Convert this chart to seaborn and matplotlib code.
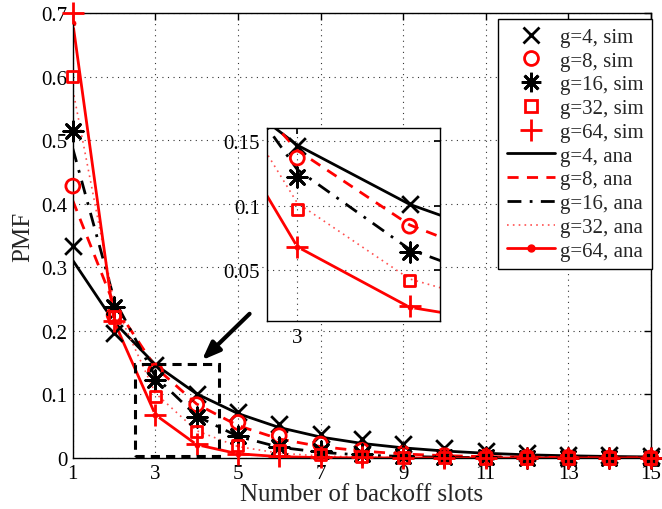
import numpy as np
import pandas as pd
import matplotlib
matplotlib.use("Agg")
import matplotlib.pyplot as plt
import seaborn as sns
from matplotlib.lines import Line2D
from matplotlib.patches import Rectangle

# ---------------- data ----------------
slots = [1, 2, 3, 4, 5, 6, 7, 8, 9, 10, 11, 12, 13, 14, 15]

g4_sim = [0.333, 0.197, 0.146, 0.101, 0.072, 0.054, 0.038, 0.030, 0.022, 0.016, 0.011, 0.008, 0.005, 0.004, 0.003]
g8_sim = [0.428, 0.225, 0.137, 0.084, 0.056, 0.035, 0.022, 0.012, 0.007, 0.004, 0.002, 0.001, 0.001, 0.0, 0.0]
g16_sim = [0.514, 0.238, 0.122, 0.064, 0.035, 0.018, 0.011, 0.006, 0.003, 0.002, 0.001, 0.0, 0.0, 0.0, 0.0]
g32_sim = [0.600, 0.222, 0.097, 0.042, 0.020, 0.0115, 0.006, 0.003, 0.001, 0.0005, 0.0, 0.0, 0.0, 0.0, 0.0]
g64_sim = [0.700, 0.215, 0.068, 0.022, 0.006, 0.003, 0.0015, 0.001, 0.0, 0.0, 0.0, 0.0, 0.0, 0.0, 0.0]

g4_ana = [0.311, 0.214, 0.147, 0.101, 0.070, 0.048, 0.033, 0.023, 0.016, 0.011, 0.0075, 0.005, 0.0035, 0.0024, 0.0017]
g8_ana = [0.405, 0.241, 0.143, 0.085, 0.051, 0.030, 0.018, 0.011, 0.0063, 0.0037, 0.0022, 0.0013, 0.0008, 0.0005, 0.0003]
g16_ana = [0.487, 0.250, 0.128, 0.066, 0.034, 0.017, 0.009, 0.0046, 0.0024, 0.0012, 0.0006, 0.0003, 0.0002, 0.0001, 0.0]
g32_ana = [0.580, 0.244, 0.102, 0.043, 0.018, 0.0076, 0.0032, 0.0013, 0.0006, 0.0002, 0.0001, 0.0, 0.0, 0.0, 0.0]
g64_ana = [0.685, 0.215, 0.068, 0.021, 0.0067, 0.0021, 0.0007, 0.0002, 0.0001, 0.0, 0.0, 0.0, 0.0, 0.0, 0.0]

sim_labels = ["g=4, sim", "g=8, sim", "g=16, sim", "g=32, sim", "g=64, sim"]
ana_labels = ["g=4, ana", "g=8, ana", "g=16, ana", "g=32, ana", "g=64, ana"]

x_ticks = [1, 3, 5, 7, 9, 11, 13, 15]
y_ticks = [0, 0.1, 0.2, 0.3, 0.4, 0.5, 0.6, 0.7]
y_tick_labels = ["0", "0.1", "0.2", "0.3", "0.4", "0.5", "0.6", "0.7"]
inset_x_ticks = [3]
inset_y_ticks = [0.05, 0.1, 0.15]
inset_y_tick_labels = ["0.05", "0.1", "0.15"]

# ---------------- styling ----------------
sns.set_theme(style="white")
plt.rcParams["font.family"] = ["Liberation Serif", "DejaVu Serif"]

sim_series = [g4_sim, g8_sim, g16_sim, g32_sim, g64_sim]
ana_series = [g4_ana, g8_ana, g16_ana, g32_ana, g64_ana]

# (color, marker, markersize, hollow)
sim_styles = [
    ("black", "x", 12, False),
    ("red", "o", 10, True),
    ("black", (8, 2, 0), 14, False),
    ("red", "s", 8, True),
    ("red", "+", 16, False),
]
ana_styles = [
    dict(color="black", linestyle="-", linewidth=2.0),
    dict(color="red", linestyle=(0, (4, 3)), linewidth=2.0),
    dict(color="black", linestyle=(0, (5, 3, 1, 3)), linewidth=2.0),
    dict(color="#ff5050", linestyle=(0, (1, 2.5)), linewidth=1.2),
    dict(color="red", linestyle="-", linewidth=2.0, marker="o", markersize=5),
]


def draw(ax, clip):
    for ys, (c, m, ms, hollow) in zip(sim_series, sim_styles):
        df = pd.DataFrame({"x": slots, "y": ys})
        sns.scatterplot(data=df, x="x", y="y", ax=ax, marker=m, s=ms ** 2,
                        color=c, linewidth=2.0, legend=False, zorder=3)
        coll = ax.collections[-1]
        if hollow:
            coll.set_facecolor("none")
            coll.set_edgecolor(c)
        coll.set_linewidth(2.0)
        coll.set_clip_on(clip)
    for ys, st in zip(ana_series, ana_styles):
        df = pd.DataFrame({"x": slots, "y": ys})
        sns.lineplot(data=df, x="x", y="y", ax=ax, legend=False, zorder=2, **st)


fig = plt.figure(figsize=(6.62, 5.10), dpi=100)
ax = fig.add_axes([0.11, 0.10, 0.873, 0.872])
draw(ax, False)

ax.set_xlim(1, 15)
ax.set_ylim(0, 0.7)
ax.set_xticks(x_ticks)
ax.set_yticks(y_ticks)
ax.set_yticklabels(y_tick_labels)
ax.grid(True, linestyle=(0, (1, 4)), color="black", linewidth=0.8, alpha=0.8)
ax.tick_params(direction="in", top=True, right=True, labelsize=15, length=5, width=1,
               colors="black", pad=4)
for s in ax.spines.values():
    s.set_color("black")
    s.set_linewidth(1.0)
ax.set_xlabel("Number of backoff slots", fontsize=18, labelpad=0)
ax.set_ylabel("PMF", fontsize=18, labelpad=5)

# dashed zoom rectangle
ax.add_patch(Rectangle((2.5, 0.003), 2.05, 0.145, fill=False, edgecolor="black",
                       linestyle=(0, (3, 2)), linewidth=2.2, zorder=5))
# arrow
ax.annotate("", xy=(4.08, 0.151), xytext=(5.33, 0.230),
            arrowprops=dict(arrowstyle="-|>,head_length=0.9,head_width=0.35",
                            color="black", linewidth=3), zorder=6)

# legend
handles = []
for lab, (c, m, ms, hollow) in zip(sim_labels, sim_styles):
    handles.append(Line2D([], [], linestyle="", marker=m, markersize=ms,
                          color=c, markeredgecolor=c, markeredgewidth=2.0,
                          markerfacecolor="none" if hollow else c, label=lab))
for lab, st in zip(ana_labels, ana_styles):
    handles.append(Line2D([], [], label=lab, **st))
leg = ax.legend(handles=handles, loc="upper right", bbox_to_anchor=(1.002, 0.987),
                fontsize=15, frameon=True, fancybox=False, edgecolor="black",
                framealpha=1, labelspacing=0.2, handlelength=2.3,
                handletextpad=0.25, borderpad=0.4, borderaxespad=0.0)
leg.get_frame().set_linewidth(1.0)

# inset
axin = fig.add_axes([0.4033, 0.3686, 0.2613, 0.3784])
draw(axin, True)
axin.set_xlim(2.73, 4.27)
axin.set_ylim(0.0103, 0.1603)
axin.set_xticks(inset_x_ticks)
axin.set_yticks(inset_y_ticks)
axin.set_yticklabels(inset_y_tick_labels)
axin.set_xlabel("")
axin.set_ylabel("")
axin.grid(True, linestyle=(0, (1, 4)), color="black", linewidth=0.8, alpha=0.8)
axin.tick_params(direction="in", top=True, right=True, labelsize=15, length=4,
                 colors="black", pad=5)
for s in axin.spines.values():
    s.set_color("black")
    s.set_linewidth(1.0)
axin.set_facecolor("white")

fig.savefig("out.png", dpi=100)
